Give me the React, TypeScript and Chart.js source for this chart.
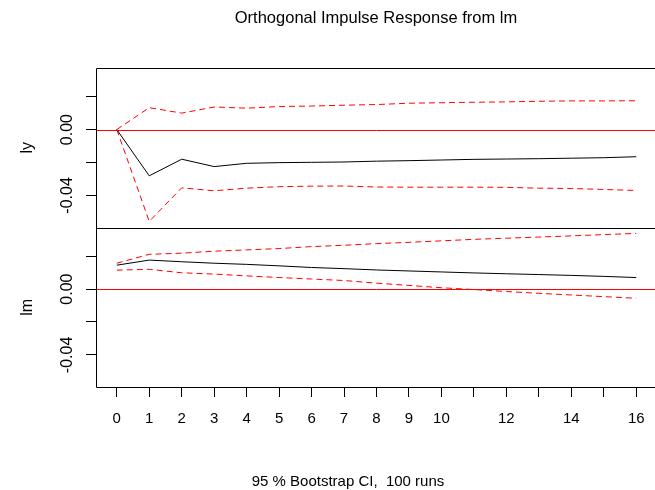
import React, { useEffect, useRef } from 'react';
import { Chart, registerables } from 'chart.js';

Chart.register(...registerables);

// ---- data ----
const horizons = [0, 1, 2, 3, 4, 5, 6, 7, 8, 9, 10, 11, 12, 13, 14, 15, 16];

const lyIrf = [0, -0.0281, -0.018, -0.0225, -0.0205, -0.0201, -0.0199, -0.0197, -0.0192, -0.0189, -0.0185, -0.0181, -0.0179, -0.0177, -0.0174, -0.0171, -0.0165];
const lyUpper = [0, 0.0133, 0.01, 0.0137, 0.013, 0.014, 0.0143, 0.0148, 0.0152, 0.016, 0.0163, 0.0166, 0.0168, 0.0172, 0.0174, 0.0174, 0.0175];
const lyLower = [0, -0.0558, -0.0354, -0.0372, -0.0356, -0.0347, -0.0344, -0.0343, -0.0349, -0.035, -0.035, -0.035, -0.0351, -0.0356, -0.0358, -0.0364, -0.037];

const lmIrf = [0.0145, 0.0176, 0.0166, 0.0157, 0.015, 0.0141, 0.0131, 0.0124, 0.0116, 0.011, 0.0104, 0.0098, 0.0093, 0.0088, 0.0083, 0.0077, 0.007];
const lmUpper = [0.0157, 0.0211, 0.0218, 0.023, 0.0238, 0.0246, 0.0258, 0.0266, 0.0276, 0.0284, 0.0293, 0.0302, 0.0309, 0.0316, 0.0323, 0.0331, 0.0338];
const lmLower = [0.0115, 0.012, 0.0099, 0.0091, 0.008, 0.007, 0.0061, 0.0052, 0.0036, 0.0022, 0.0008, -0.0003, -0.0015, -0.0026, -0.0036, -0.0046, -0.0056];

const yTickValues = [0.02, 0, -0.02, -0.04];
const yLabelValues = [0, -0.04];
const xHiddenLabels = [11, 13, 15];
const panelNames = ['ly', 'lm'];
const titleText = 'Orthogonal Impulse Response from lm';
const subText = '95 % Bootstrap CI,  100 runs';

const FONT = '"Liberation Sans", Arial, sans-serif';
const PANEL_IDS = ['yTop', 'yBottom'];

const toPts = (ys: number[]) => horizons.map((x, i) => ({ x, y: ys[i] }));

const rPlugin = {
  id: 'rStyle',
  afterDraw(chart: any) {
    const ctx = chart.ctx;
    const { left, right, top, bottom } = chart.chartArea;
    ctx.save();
    ctx.setLineDash([]);
    // red zero reference lines
    ctx.strokeStyle = '#ff0000';
    ctx.lineWidth = 1;
    PANEL_IDS.forEach((id) => {
      const s = chart.scales[id];
      const y = Math.round(s.getPixelForValue(0)) + 0.5;
      ctx.beginPath();
      ctx.moveTo(left, y);
      ctx.lineTo(right, y);
      ctx.stroke();
    });

    // frame
    ctx.strokeStyle = '#000';
    const l = Math.round(left) + 0.5;
    const r = Math.round(right) + 0.5;
    const t = Math.round(top) + 0.5;
    const b = Math.round(bottom) + 0.5;
    const mid = Math.round(chart.scales.yTop.bottom) + 0.5;
    ctx.beginPath();
    ctx.moveTo(l, t); ctx.lineTo(r, t); ctx.lineTo(r, b); ctx.lineTo(l, b); ctx.closePath();
    ctx.moveTo(l, mid); ctx.lineTo(r, mid);
    ctx.stroke();

    ctx.fillStyle = '#000';
    ctx.textAlign = 'center';
    ctx.textBaseline = 'alphabetic';
    PANEL_IDS.forEach((id, i) => {
      const s = chart.scales[id];
      ctx.font = `16px ${FONT}`;
      yLabelValues.forEach((v) => {
        ctx.save();
        ctx.translate(72, s.getPixelForValue(v));
        ctx.rotate(-Math.PI / 2);
        ctx.fillText(v.toFixed(2), 0, 0);
        ctx.restore();
      });
      ctx.save();
      ctx.translate(32, (s.top + s.bottom) / 2);
      ctx.rotate(-Math.PI / 2);
      ctx.fillText(panelNames[i], 0, 0);
      ctx.restore();
    });

    ctx.font = `16.5px ${FONT}`;
    ctx.fillText(titleText, 376, 23);
    ctx.font = `15px ${FONT}`;
    ctx.fillText(subText, 348, 486);
    ctx.restore();
  },
};

const yAxis = () => ({
  type: 'linear' as const,
  position: 'left' as const,
  stack: 'irf',
  stackWeight: 1,
  min: -0.0595,
  max: 0.0374,
  afterBuildTicks: (s: any) => {
    s.ticks = yTickValues.map((value) => ({ value }));
  },
  afterFit: (s: any) => {
    s.width = 96;
  },
  ticks: { display: false },
  grid: { drawOnChartArea: false, drawTicks: true, tickLength: 10, color: '#000', lineWidth: 1 },
  border: { display: false },
  title: { display: false },
});

export default function App() {
  const ref = useRef<HTMLCanvasElement | null>(null);

  useEffect(() => {
    if (!ref.current) return;
    const red = '#ff0000';
    const chart = new Chart(ref.current, {
      type: 'line',
      data: {
        datasets: [
          { data: toPts(lyIrf), yAxisID: 'yTop', borderColor: '#000', borderWidth: 1 },
          { data: toPts(lyUpper), yAxisID: 'yTop', borderColor: red, borderWidth: 1, borderDash: [6, 4] },
          { data: toPts(lyLower), yAxisID: 'yTop', borderColor: red, borderWidth: 1, borderDash: [6, 4] },
          { data: toPts(lmIrf), yAxisID: 'yBottom', borderColor: '#000', borderWidth: 1 },
          { data: toPts(lmUpper), yAxisID: 'yBottom', borderColor: red, borderWidth: 1, borderDash: [6, 4] },
          { data: toPts(lmLower), yAxisID: 'yBottom', borderColor: red, borderWidth: 1, borderDash: [6, 4] },
        ],
      },
      options: {
        animation: false,
        responsive: false,
        maintainAspectRatio: false,
        devicePixelRatio: 1,
        layout: { padding: { top: 68, right: 13, bottom: 0, left: 0 } },
        elements: { point: { radius: 0 }, line: { tension: 0, fill: false } },
        plugins: { legend: { display: false }, tooltip: { enabled: false }, title: { display: false } },
        scales: {
          x: {
            type: 'linear',
            min: -0.64,
            max: 16.64,
            afterBuildTicks: (s: any) => {
              s.ticks = horizons.map((value) => ({ value }));
            },
            afterFit: (s: any) => {
              s.height = 103;
            },
            ticks: {
              autoSkip: false,
              maxRotation: 0,
              minRotation: 0,
              padding: 13,
              color: '#000',
              font: { family: FONT, size: 15 },
              callback: (v: any) => (xHiddenLabels.includes(Number(v)) ? '' : String(v)),
            },
            grid: { drawOnChartArea: false, drawTicks: true, tickLength: 10, color: '#000', lineWidth: 1 },
            border: { display: false },
          },
          // stacked axes: the last one listed is placed on top
          yBottom: yAxis(),
          yTop: yAxis(),
        },
      },
      plugins: [rPlugin],
    } as any);
    return () => chart.destroy();
  }, []);

  return (
    <div style={{ position: 'absolute', left: 0, top: 0, width: 655, height: 490, overflow: 'hidden', background: '#fff' }}>
      <canvas ref={ref} width={670} height={490} style={{ display: 'block', width: 670, height: 490 }} />
    </div>
  );
}
